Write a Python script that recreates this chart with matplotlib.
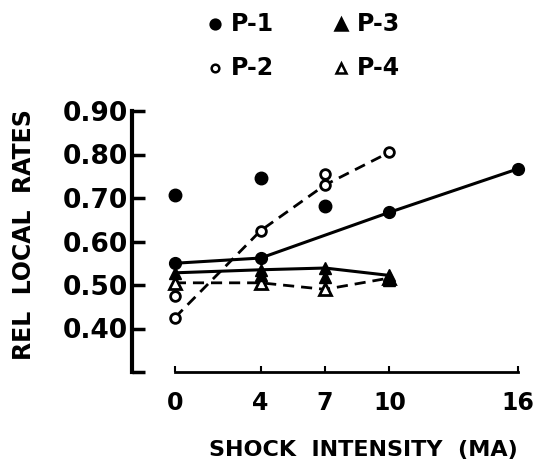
import matplotlib
matplotlib.use("Agg")
import matplotlib.pyplot as plt
from matplotlib.lines import Line2D

plt.rcParams["font.family"] = ["DejaVu Sans"]
plt.rcParams["font.weight"] = "bold"

# shock intensity (MA)
x_main = [0, 4, 7, 10]
x_p1 = [0, 4, 10, 16]

# connected series
p1_line = [0.55, 0.562, 0.667, 0.767]
p2_line = [0.425, 0.625, 0.73, 0.805]
p3_line = [0.528, 0.535, 0.539, 0.522]
p4_line = [0.505, 0.505, 0.49, 0.516]

# unconnected points
p1_pts_x = [0, 4, 7]
p1_pts = [0.706, 0.745, 0.682]
p2_pts_x = [0, 7]
p2_pts = [0.475, 0.756]
p3_pts_x = [4, 7, 10]
p3_pts = [0.522, 0.518, 0.512]

y_ticks = [0.30, 0.40, 0.50, 0.60, 0.70, 0.80, 0.90]
y_labels = ["", "0.40", "0.50", "0.60", "0.70", "0.80", "0.90"]
x_ticks = [0, 4, 7, 10, 16]

fig = plt.figure(figsize=(5.35, 4.72), dpi=100)
ax = fig.add_axes([132 / 535, 100 / 472, 386 / 535, 261 / 472])

dash = (0, (4, 2.5))
ax.plot(x_p1, p1_line, color="black", lw=2.2, marker="o", ms=8.5, clip_on=False)
ax.plot(x_main, p2_line, color="black", lw=2.0, ls=dash, marker="o", ms=7,
        mfc="white", mew=2, clip_on=False)
ax.plot(x_main, p3_line, color="black", lw=2.2, marker="^", ms=9, clip_on=False)
ax.plot(x_main, p4_line, color="black", lw=2.0, ls=dash, marker="^", ms=8,
        mfc="white", mew=2, clip_on=False)

ax.plot(p1_pts_x, p1_pts, "o", color="black", ms=9, ls="none")
ax.plot(p2_pts_x, p2_pts, "o", color="black", ms=7, mfc="white", mew=2, ls="none")
ax.plot(p3_pts_x, p3_pts, "^", color="black", ms=9, ls="none")

ax.set_xlim(-2, 16)
ax.set_ylim(0.30, 0.90)

for s in ["top", "right"]:
    ax.spines[s].set_visible(False)
ax.spines["left"].set_bounds(0.30, 0.90)
ax.spines["left"].set_linewidth(3)
ax.spines["bottom"].set_bounds(0, 16)
ax.spines["bottom"].set_linewidth(2)

ax.set_yticks(y_ticks)
ax.set_yticklabels(y_labels)
ax.set_xticks(x_ticks)
ax.set_xticklabels([str(t) for t in x_ticks])
ax.tick_params(axis="y", direction="in", length=9, width=2.5, pad=3, labelsize=19)
ax.tick_params(axis="x", direction="in", length=4, width=1.5, pad=14, labelsize=17)

fig.text(24 / 535, 1 - 235 / 472, "REL  LOCAL  RATES", rotation=90,
         ha="center", va="center", fontsize=17, fontweight="bold")
fig.text(363 / 535, 1 - 450 / 472, "SHOCK  INTENSITY  (MA)",
         ha="center", va="center", fontsize=16, fontweight="bold")

# legend drawn in figure coords
legend_rows = [
    (215, 24, "o", "black", 7, "P-1"),
    (341, 24, "^", "black", 8, "P-3"),
    (215, 68, "o", "white", 5.5, "P-2"),
    (341, 68, "^", "white", 7, "P-4"),
]
for px, py, mk, fc, ms, lab in legend_rows:
    fig.add_artist(Line2D([px / 535], [1 - py / 472], marker=mk, ms=ms,
                          mfc=fc, mec="black", mew=1.8, ls="none",
                          transform=fig.transFigure))
    fig.text((px + 16) / 535, 1 - py / 472, lab, ha="left", va="center",
             fontsize=17, fontweight="bold")

fig.savefig("out.png", dpi=100)
